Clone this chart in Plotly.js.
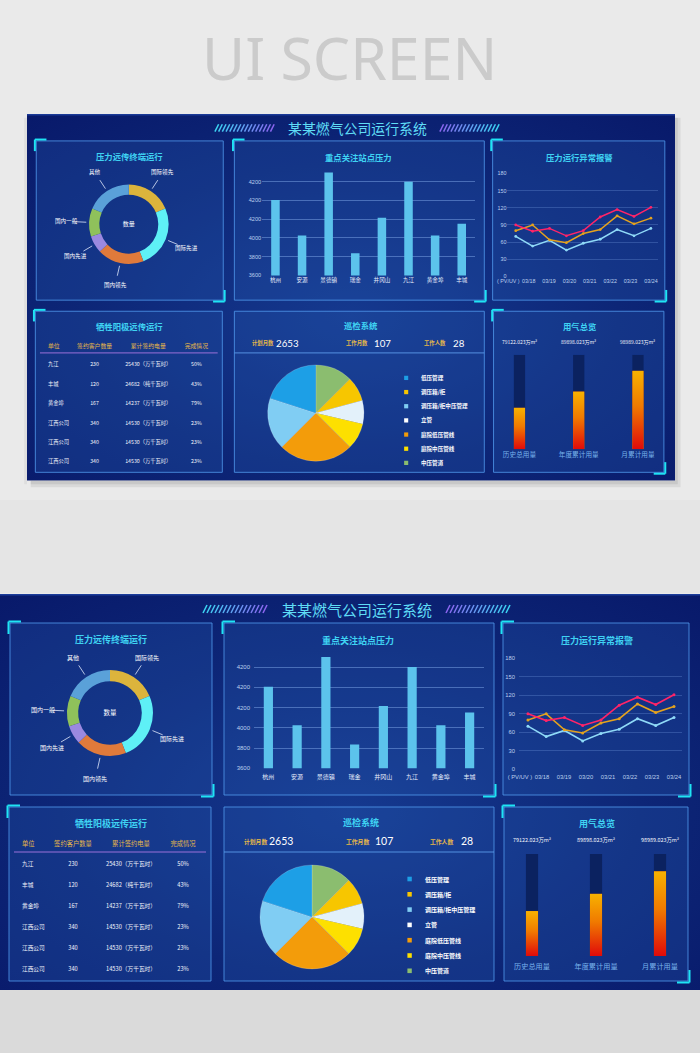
<!DOCTYPE html>
<html><head><meta charset="utf-8">
<script src="https://cdn.plot.ly/plotly-3.0.1.min.js"></script>
<style>html,body{margin:0;padding:0;background:#eaeaea;}#chart{width:700px;height:1053px;}</style>
</head><body><div id="chart"></div>
<script>
// ---------------- DATA ----------------
const donutLabels = ['国际领先','国际先进','国内领先','国内先进','国内一般','其他'];
const donutValues = [37, 51, 38, 14, 23, 37];
const donutColors = ['#dcb43c','#5ef0f6','#e07a3b','#9b89e0','#8fc15b','#5aa1d9'];

const barCats = ['杭州','安源','景德镇','瑞金','井冈山','九江','黄金埠','丰城'];
const barValues = [4405, 4026, 4698, 3836, 4216, 4600, 4026, 4151];
const barTickVals = [3600, 3800, 4000, 4200, 4400, 4600];
const barTickText = ['3600','3800','4000','4200','4200','4200'];

const lineDates = ['( PV/UV )','03/18','03/19','03/20','03/21','03/22','03/23','03/24'];
const lineRed = [90, 79, 84, 71, 80, 104, 117, 105, 121];
const lineOrange = [80, 90, 64, 59, 75, 82, 106, 92, 102];
const lineBlue = [70, 53, 63, 46, 58, 65, 82, 71, 84];
const lineTicks = [0, 30, 60, 90, 120, 150, 180];

const tableHeader = ['单位','签约客户数量','累计签约电量','完成情况'];
const tableUnits = ['九江','丰城','黄金埠','江西公司','江西公司','江西公司'];
const tableCustomers = ['230','120','167','340','340','340'];
const tableEnergy = ['25430（万千瓦时）','24682（纯千瓦时）','14237（万千瓦时）','14530（万千瓦时）','14530（万千瓦时）','14530（万千瓦时）'];
const tableRate = ['50%','43%','79%','23%','23%','23%'];

const statLabels = ['计划月数','工作月数','工作人数'];
const statValues = ['2653','107','28'];

const pieLabels = ['中压管道','调压箱/柜','立管','庭院中压管线','庭院低压管线','调压箱/柜中压管理','低压管理'];
const pieValues = [45, 30, 28, 32, 90, 63, 72];
const pieColors = ['#8bbd6f','#f7c600','#e3f1fa','#fde000','#f39c0a','#80cdf3','#1d9fe6'];
const legendLabels = ['低压管理','调压箱/柜','调压箱/柜中压管理','立管','庭院低压管线','庭院中压管线','中压管道'];
const legendColors = ['#1d9fe6','#f7c600','#80cdf3','#ffffff','#f39c0a','#fde000','#8bbd6f'];

const gaugeNames = ['历史总用量','年度累计用量','月累计用量'];
const gaugeTotals = ['79122.023万m³','89898.023万m³','98989.023万m³'];
const gaugePercent = [44, 61, 83];
const gaugeTrack = [100, 100, 100];

// ---------------- BUILD ----------------
const W = 700, H = 1053;
const CJK = '"Noto Sans CJK SC", "Noto Sans", sans-serif';
const LAT = '"Liberation Sans", "DejaVu Sans", sans-serif';
const layout = {
  width: W, height: H, margin: {l:0, r:0, t:0, b:0},
  paper_bgcolor: '#eaeaea', plot_bgcolor: 'rgba(0,0,0,0)',
  showlegend: false, barmode: 'overlay',
  shapes: [], annotations: [], images: [],
  font: {family: CJK}
};
const data = [];

function hex2rgb(h){ return [1,3,5].map(i=>parseInt(h.substr(i,2),16)); }
function mix(a,b,t){ const A=hex2rgb(a), B=hex2rgb(b); return 'rgb('+A.map((v,i)=>Math.round(v+(B[i]-v)*t)).join(',')+')'; }

const gradSvg = '<svg xmlns="http://www.w3.org/2000/svg" width="10" height="100" viewBox="0 0 10 100" preserveAspectRatio="none"><defs><linearGradient id="g" x1="0" y1="0" x2="0" y2="1"><stop offset="0" stop-color="#f7b200"/><stop offset="0.45" stop-color="#f07a00"/><stop offset="1" stop-color="#e00a0a"/></linearGradient></defs><rect width="10" height="100" fill="url(#g)"/></svg>';
const gradURI = 'data:image/svg+xml;base64,' + btoa(gradSvg);
const bgSvg = '<svg xmlns="http://www.w3.org/2000/svg" width="700" height="396" viewBox="0 0 700 396" preserveAspectRatio="none"><defs><radialGradient id="r" cx="0.5" cy="0.55" r="0.75"><stop offset="0" stop-color="#15398f"/><stop offset="0.55" stop-color="#0d2677"/><stop offset="1" stop-color="#08196a"/></radialGradient></defs><rect width="700" height="396" fill="url(#r)"/><rect width="700" height="1.5" fill="#1b3c9a"/></svg>';
const bgURI = 'data:image/svg+xml;base64,' + btoa(bgSvg);

// page decorations (kept outside the boards, shapes sit above the board images)
layout.shapes.push({type:'rect', xref:'paper', yref:'paper', x0:0, x1:1, y0:0, y1:1-990/H, fillcolor:'#dadada', line:{width:0}, layer:'below'});
layout.shapes.push({type:'rect', xref:'paper', yref:'paper', x0:0, x1:1, y0:1-593/H, y1:1-500/H, fillcolor:'#e5e5e5', line:{width:0}, layer:'below'});
layout.annotations.push({xref:'paper', yref:'paper', x:349/W, y:1-57/H, text:'UI SCREEN', showarrow:false,
  font:{family:'"Noto Sans", sans-serif', size:59, color:'#cbcbcb'}, xanchor:'center', yanchor:'middle'});

function addDash(ox, oy, s, k, shadow){
  const X = x => (ox + x*s)/W;
  const Y = y => 1 - (oy + (y-595)*s)/H;
  const f = v => v*s;
  const id = i => { const n = k*3 + i; return n === 1 ? '' : String(n); };
  const shapes = layout.shapes, ann = layout.annotations;
  function rect(x0,y0,x1,y1,fill,lc,lw){ shapes.push({type:'rect', xref:'paper', yref:'paper', x0:X(x0), x1:X(x1), y0:Y(y1), y1:Y(y0), fillcolor:fill, line:{color:lc||'rgba(0,0,0,0)', width:lw||0}, layer:'below'}); }
  function line(x0,y0,x1,y1,color,w){ shapes.push({type:'line', xref:'paper', yref:'paper', x0:X(x0), y0:Y(y0), x1:X(x1), y1:Y(y1), line:{color:color, width:w}, layer:'above'}); }
  function text(x,y,t,size,color,opts){ ann.push(Object.assign({xref:'paper', yref:'paper', x:X(x), y:Y(y), text:t, showarrow:false, font:{family:CJK, size:f(size), color:color}, xanchor:'center', yanchor:'middle'}, opts||{})); }

  if (shadow){
    rect(700, 598, 706, 997, 'rgba(0,0,0,0.07)');
    rect(700, 598, 703, 994, 'rgba(0,0,0,0.08)');
    rect(4, 990, 700, 997, 'rgba(0,0,0,0.07)');
    rect(4, 990, 700, 994, 'rgba(0,0,0,0.08)');
    rect(-3, 598, 0, 994, 'rgba(0,0,0,0.05)');
  }
  layout.images.push({source:bgURI, xref:'paper', yref:'paper', x:X(0), y:Y(594), sizex:X(700)-X(0), sizey:Y(594)-Y(990),
    xanchor:'left', yanchor:'top', sizing:'stretch', layer:'below'});

  text(357, 609, '某某燃气公司运行系统', 15, '#5fdcf5');
  for (let i=0;i<16;i++){
    const t = i/15;
    const xl = 203 + i*4;
    line(xl, 613, xl+4, 605, mix('#3cd4f3','#8b66ef',t), 1.5);
    const xr = 446 + i*4;
    line(xr, 613, xr+4, 605, mix('#8b66ef','#3cd4f3',t), 1.5);
  }

  const panels = [
    [10,623,212,795,true,true],
    [224,623,494,795,true,true],
    [503,623,689,795,true,true],
    [9,807,211,981,true,false],
    [224,807,494,981,false,false],
    [504,807,688,981,true,true]
  ];
  panels.forEach(p=>{
    rect(p[0],p[1],p[2],p[3],'rgba(40,92,178,0.28)','rgba(78,148,232,0.85)',1);
    const c = '#1fe4f4';
    if (p[4]){ line(p[0]-1.5,p[1]-1.5,p[0]+11,p[1]-1.5,c,2); line(p[0]-1.5,p[1]-1.5,p[0]-1.5,p[1]+11,c,2); }
    if (p[5]){ line(p[2]+1.5,p[3]+1.5,p[2]-11,p[3]+1.5,c,2); line(p[2]+1.5,p[3]+1.5,p[2]+1.5,p[3]-11,c,2); }
  });
  const tcol = '#3fd3f3';
  const tb = {font:{family:CJK, size:f(9), color:tcol, weight:'bold'}};
  text(111, 639, '压力远传终端运行', 9, tcol, tb);
  text(358, 640, '重点关注站点压力', 9, tcol, tb);
  text(597, 640, '压力运行异常报警', 9, tcol, tb);
  text(111, 823, '牺牲阳极远传运行', 9, tcol, tb);
  text(361, 822, '巡检系统', 9, tcol, tb);
  text(597, 823, '用气总览', 9, tcol, tb);

  // ---- donut ----
  data.push({type:'pie', values:donutValues, labels:donutLabels, sort:false, direction:'clockwise', rotation:0,
    hole:0.74, textinfo:'none', hoverinfo:'skip', showlegend:false,
    marker:{colors:donutColors, line:{width:0}},
    domain:{x:[X(67),X(153)], y:[Y(756),Y(670)]},
    title:{text:'数量', position:'middle center', font:{family:CJK, size:f(6.5), color:'#ffffff'}}});
  const dtot = donutValues.reduce((a,b)=>a+b,0);
  let cum = 0;
  donutValues.forEach((v,i)=>{
    const mid = (cum + v/2)/dtot*2*Math.PI; cum += v;
    const sx = Math.sin(mid), sy = -Math.cos(mid);
    line(110+46*sx, 713+46*sy, 110+57*sx, 713+57*sy, '#dfe8fb', 0.8);
    text(110+67*sx, 713+67*sy, donutLabels[i], 6, '#ffffff');
  });

  // ---- bar chart ----
  data.push({type:'bar', x:barCats, y:barValues, width:0.32, marker:{color:'#5cc3ec', line:{width:0}},
    hoverinfo:'skip', xaxis:'x'+id(1), yaxis:'y'+id(1)});
  layout['xaxis'+id(1)] = {domain:[X(254),X(484)], anchor:'y'+id(1), showgrid:false, zeroline:false, showline:false,
    ticks:'', ticklabelstandoff:f(4), tickfont:{family:CJK, size:f(6), color:'#e8effc'}, fixedrange:true};
  layout['yaxis'+id(1)] = {domain:[Y(768.3),Y(650)], anchor:'x'+id(1), range:[3600,4768],
    tickmode:'array', tickvals:barTickVals, ticktext:barTickText, showgrid:true, gridcolor:'rgba(125,165,232,0.5)', gridwidth:1,
    zeroline:false, showline:false, ticks:'', ticklabelstandoff:f(3), tickfont:{family:LAT, size:f(6), color:'#bcd0ee'}, fixedrange:true};

  // ---- line chart ----
  const lx = lineRed.map((_,i)=>i);
  [[lineBlue,'#8fd9f7'],[lineOrange,'#e4a21e'],[lineRed,'#ff2468']].forEach(([vals,col])=>{
    data.push({type:'scatter', mode:'lines+markers', x:lx, y:vals, line:{color:col, width:f(1.6)},
      marker:{color:col, size:f(3)}, hoverinfo:'skip', xaxis:'x'+id(2), yaxis:'y'+id(2)});
  });
  const tv = lineDates.map((_,i)=>-0.44 + i*(8.44/(lineDates.length-1)));
  layout['xaxis'+id(2)] = {domain:[X(519),X(682)], anchor:'y'+id(2), range:[-0.49,8.44], tickmode:'array',
    tickvals:tv, ticktext:lineDates, showgrid:false, zeroline:false, showline:false, ticks:'',
    ticklabelstandoff:f(3), tickfont:{family:LAT, size:f(5.8), color:'#bcd0ee'}, fixedrange:true};
  layout['yaxis'+id(2)] = {domain:[Y(769.3),Y(658.3)], anchor:'x'+id(2), range:[0,180], tickmode:'array',
    tickvals:lineTicks, showgrid:true, gridcolor:'rgba(125,165,232,0.28)', gridwidth:1, zeroline:false, showline:false,
    ticks:'', ticklabelstandoff:f(3), tickfont:{family:LAT, size:f(5.8), color:'#bcd0ee'}, fixedrange:true};

  // ---- table ----
  data.push({type:'table', domain:{x:[X(14),X(202)], y:[Y(981),Y(833.5)]}, columnwidth:[34,50,66,38],
    header:{values:tableHeader, align:['left','center','center','center'], height:f(20),
      fill:{color:'rgba(0,0,0,0)'}, line:{width:0, color:'rgba(0,0,0,0)'},
      font:{family:CJK, size:f(6.3), color:'#e6b84a'}},
    cells:{values:[tableUnits, tableCustomers, tableEnergy, tableRate], align:['left','center','center','center'], height:f(21),
      fill:{color:'rgba(0,0,0,0)'}, line:{width:0, color:'rgba(0,0,0,0)'},
      font:{family:CJK, size:f(5.7), color:'#f2f5fc'}}});
  line(14, 852, 206, 852, '#9b70d8', 1);

  // ---- inspection pie ----
  const sx0 = [255, 357, 441], sv0 = [281, 384, 467];
  statLabels.forEach((l,i)=>{
    text(sx0[i], 841.5, l, 5.8, '#e6b84a', {font:{family:CJK, size:f(5.8), color:'#e6b84a', weight:'bold'}});
    text(sv0[i], 841, statValues[i], 10, '#ffffff', {font:{family:'Lato, "Noto Sans", sans-serif', size:f(10.5), color:'#ffffff'}});
  });
  line(224, 852, 494, 852, 'rgba(95,160,238,0.85)', 1);
  data.push({type:'pie', values:pieValues, labels:pieLabels, sort:false, direction:'clockwise', rotation:0,
    textinfo:'none', hoverinfo:'skip', showlegend:false,
    marker:{colors:pieColors, line:{width:0.5, color:'rgba(255,255,255,0.35)'}},
    domain:{x:[X(260),X(364)], y:[Y(969),Y(865)]}});
  legendLabels.forEach((lab,i)=>{
    const yy = 879 + i*15.3;
    rect(407.4, yy-2.3, 411.8, yy+2.3, legendColors[i]);
    text(423, yy, lab, 6, '#ffffff', {xanchor:'left', font:{family:CJK, size:f(6), color:'#ffffff', weight:'bold'}});
  });

  // ---- gauges ----
  const gx = gaugePercent.map((_,i)=>i);
  data.push({type:'bar', x:gx, y:gaugeTrack, width:0.19, marker:{color:'#0b2260', line:{width:0}}, hoverinfo:'skip',
    xaxis:'x'+id(3), yaxis:'y'+id(3)});
  data.push({type:'bar', x:gx, y:gaugePercent, width:0.19, marker:{color:'#f07000', line:{width:0}}, hoverinfo:'skip',
    xaxis:'x'+id(3), yaxis:'y'+id(3)});
  gaugePercent.forEach((v,i)=>{
    layout.images.push({source:gradURI, xref:'x'+id(3), yref:'y'+id(3), x:i, y:0, sizex:0.19, sizey:v,
      xanchor:'center', yanchor:'bottom', sizing:'stretch', layer:'above'});
    ann.push({xref:'x'+id(3), yref:'paper', x:i, y:Y(840), text:gaugeTotals[i], showarrow:false,
      font:{family:CJK, size:f(5.4), color:'#f2f5fc'}, xanchor:'center', yanchor:'middle'});
  });
  layout['xaxis'+id(3)] = {domain:[X(500),X(692)], anchor:'y'+id(3), range:[-0.5,2.5], tickmode:'array',
    tickvals:gx, ticktext:gaugeNames, showgrid:false, zeroline:false, showline:false, ticks:'',
    ticklabelstandoff:f(5), tickfont:{family:CJK, size:f(7.2), color:'#78b2ec'}, fixedrange:true};
  layout['yaxis'+id(3)] = {domain:[Y(956),Y(854)], anchor:'x'+id(3), range:[0,100], visible:false, fixedrange:true};
}

addDash(27, 115, 648/700, 0, true);
addDash(0, 595, 1, 1, false);

Plotly.newPlot('chart', data, layout, {displayModeBar:false, staticPlot:true});
</script>
</body></html>
